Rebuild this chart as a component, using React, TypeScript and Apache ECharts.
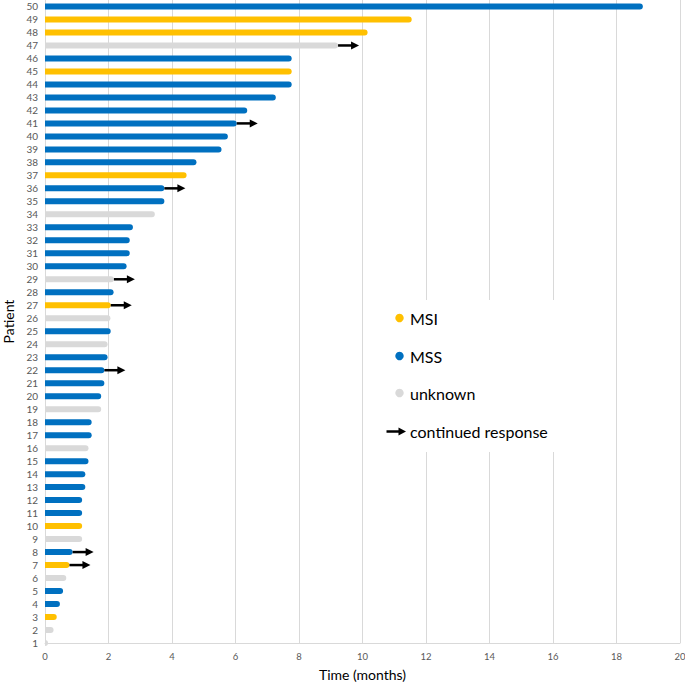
import React, { useEffect, useRef } from "react";
import * as echarts from "echarts";

const patients = [1,2,3,4,5,6,7,8,9,10,11,12,13,14,15,16,17,18,19,20,21,22,23,24,25,26,27,28,29,30,31,32,33,34,35,36,37,38,39,40,41,42,43,44,45,46,47,48,49,50];
const durations = [0.03,0.27,0.37,0.47,0.57,0.67,0.77,0.87,1.17,1.17,1.17,1.17,1.27,1.27,1.37,1.37,1.47,1.47,1.77,1.77,1.87,1.87,1.97,1.97,2.07,2.06,2.07,2.16,2.17,2.57,2.67,2.67,2.77,3.46,3.76,3.76,4.46,4.77,5.56,5.76,6.04,6.37,7.27,7.77,7.77,7.77,9.23,10.16,11.55,18.83];
const status = ["unknown","unknown","MSI","MSS","MSS","unknown","MSI","MSS","unknown","MSI","MSS","MSS","MSS","MSS","MSS","unknown","MSS","MSS","unknown","MSS","MSS","MSS","MSS","unknown","MSS","unknown","MSI","MSS","unknown","MSS","MSS","MSS","MSS","unknown","MSS","MSS","MSI","MSS","MSS","MSS","MSS","MSS","MSS","MSS","MSI","MSS","unknown","MSI","MSI","MSS"];
const continuedResponse = [7,8,22,27,29,36,41,47];
const statusNames = ["MSI","MSS","unknown"];
const xTicks = [0,2,4,6,8,10,12,14,16,18,20];

const COLORS: Record<string, string> = { MSI: "#FFC000", MSS: "#0070C0", unknown: "#D9D9D9" };
const FONT = "Lato, 'Open Sans', sans-serif";

export default function App() {
  const ref = useRef<HTMLDivElement>(null);
  useEffect(() => {
    document.body.style.margin = "0";
    if (!ref.current) return;
    const chart = echarts.init(ref.current, undefined, { renderer: "svg" });

    const barSeries = statusNames.map((s) => ({
      type: "custom",
      name: s,
      data: patients
        .map((p, i) => ({ p, v: durations[i], s: status[i] }))
        .filter((d) => d.s === s)
        .map((d) => [d.v, d.p]),
      renderItem: (params: any, api: any) => {
        const v = api.value(0);
        const p = api.value(1);
        const start = api.coord([0, p]);
        const end = api.coord([v, p]);
        const h = 6;
        const w = Math.max(end[0] - start[0], 3);
        return {
          type: "rect",
          shape: { x: start[0], y: start[1] - h / 2, width: w, height: h, r: [0, 3, 3, 0] },
          style: { fill: COLORS[s] },
        };
      },
      z: 2,
    }));

    const arrowSeries = {
      type: "custom",
      name: "continued response",
      data: continuedResponse.map((p) => [durations[p - 1], p]),
      renderItem: (params: any, api: any) => {
        const v = api.value(0);
        const p = api.value(1);
        const s = api.coord([v, p]);
        const len = 21;
        const head = 8;
        const tipX = s[0] + len;
        return {
          type: "group",
          children: [
            {
              type: "line",
              shape: { x1: s[0], y1: s[1], x2: tipX - head + 1, y2: s[1] },
              style: { stroke: "#000", lineWidth: 2.5 },
            },
            {
              type: "polygon",
              shape: { points: [[tipX - head, s[1] - 4], [tipX, s[1]], [tipX - head, s[1] + 4]] },
              style: { fill: "#000" },
            },
          ],
        };
      },
      z: 3,
    };

    const legendRows = [
      { label: "MSI", y: 318, color: COLORS.MSI },
      { label: "MSS", y: 356, color: COLORS.MSS },
      { label: "unknown", y: 393, color: COLORS.unknown },
    ];

    const graphic: any[] = [
      { type: "rect", shape: { x: 368, y: 300, width: 212, height: 152 }, style: { fill: "#fff" }, z: 10 },
      ...legendRows.flatMap((r) => [
        { type: "circle", shape: { cx: 399.5, cy: r.y, r: 4.2 }, style: { fill: r.color }, z: 11 },
        {
          type: "text", x: 410, y: r.y,
          style: { text: r.label, fill: "#000", font: `16px ${FONT}`, verticalAlign: "middle", align: "left" },
          z: 11,
        },
      ]),
      { type: "line", shape: { x1: 386.5, y1: 431.5, x2: 400, y2: 431.5 }, style: { stroke: "#000", lineWidth: 2.5 }, z: 11 },
      { type: "polygon", shape: { points: [[398.5, 427.5], [406, 431.5], [398.5, 435.5]] }, style: { fill: "#000" }, z: 11 },
      {
        type: "text", x: 410, y: 431.5,
        style: { text: "continued response", fill: "#000", font: `16px ${FONT}`, verticalAlign: "middle", align: "left" },
        z: 11,
      },
    ];

    chart.setOption({
      animation: false,
      backgroundColor: "#fff",
      grid: { left: 45, right: 5, top: 0, bottom: 41, containLabel: false, outerBoundsMode: "none" },
      xAxis: {
        type: "value",
        min: xTicks[0],
        max: xTicks[xTicks.length - 1],
        interval: 2,
        name: "Time (months)",
        nameLocation: "middle",
        nameGap: 24,
        nameTextStyle: { fontFamily: FONT, fontSize: 14, color: "#000" },
        axisLine: { show: true, lineStyle: { color: "#D9D9D9", width: 1 } },
        axisTick: { show: false },
        axisLabel: { color: "#595959", fontFamily: FONT, fontSize: 9.5, margin: 8 },
        splitLine: { show: true, lineStyle: { color: "#D9D9D9", width: 1 } },
      },
      yAxis: {
        type: "value",
        min: 1,
        max: 50.5,
        interval: 1,
        name: "Patient",
        nameLocation: "middle",
        nameGap: 30,
        nameRotate: 90,
        nameTextStyle: { fontFamily: FONT, fontSize: 14, color: "#000" },
        axisLine: { show: true, lineStyle: { color: "#D9D9D9", width: 1 } },
        axisTick: { show: false },
        axisLabel: {
          color: "#595959", fontFamily: FONT, fontSize: 10, margin: 7,
          formatter: (v: number) => (Math.abs(v - Math.round(v)) < 1e-6 ? String(Math.round(v)) : ""),
        },
        splitLine: { show: false },
      },
      series: [...barSeries, arrowSeries],
      graphic,
    });
    return () => chart.dispose();
  }, []);
  return <div ref={ref} style={{ width: 685, height: 684 }} />;
}
